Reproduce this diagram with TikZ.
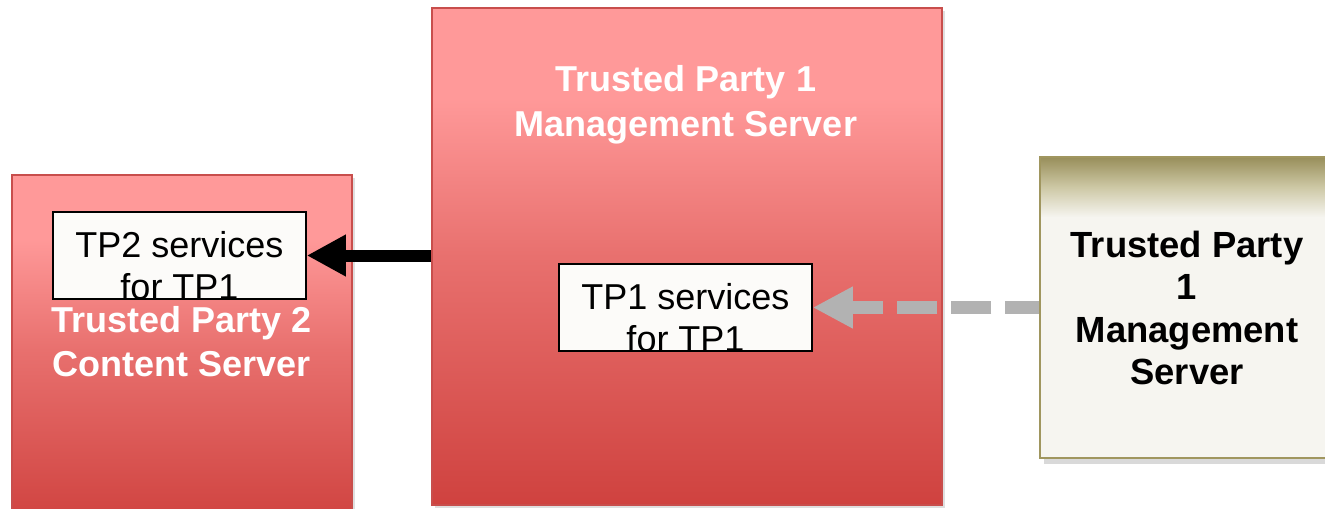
\documentclass[tikz,border=0pt]{standalone}
\usepackage{fontspec}
\setmainfont{Liberation Sans}
\usetikzlibrary{arrows.meta,shadows}

\definecolor{tppink}{RGB}{255,153,153}
\definecolor{tpmidred}{RGB}{232,112,110}
\definecolor{tpred}{RGB}{207,66,63}
\definecolor{tpredline}{RGB}{200,78,76}
\definecolor{tpolive}{RGB}{152,142,90}
\definecolor{tptan}{RGB}{205,200,165}
\definecolor{tpcream}{RGB}{246,245,240}
\definecolor{tpoliveline}{RGB}{160,150,95}
\definecolor{tpgray}{RGB}{178,178,178}
\definecolor{tpwhite}{RGB}{252,251,249}

\pgfdeclareverticalshading{redfade}{100bp}{color(0bp)=(tpred); color(25bp)=(tpred); color(50bp)=(tpmidred); color(66bp)=(tppink); color(75bp)=(tppink); color(100bp)=(tppink)}
\pgfdeclareverticalshading{beigefade}{100bp}{color(0bp)=(tpcream); color(25bp)=(tpcream); color(65bp)=(tpcream); color(70bp)=(tptan); color(75bp)=(tpolive); color(100bp)=(tpolive)}

\tikzset{
  redbox/.style={draw=tpredline, line width=0.6pt, shade, shading=redfade,
    drop shadow={shadow xshift=1.5pt, shadow yshift=-1.5pt, opacity=0.25}},
  beigebox/.style={draw=tpoliveline, line width=0.75pt, shade, shading=beigefade,
    drop shadow={shadow xshift=2pt, shadow yshift=-3pt, opacity=0.3}},
  svcbox/.style={draw=black, line width=0.75pt, fill=tpwhite, inner sep=0pt,
    minimum width=126.5pt, minimum height=43.5pt},
  svctext/.style={align=center, inner sep=0pt, font=\fontsize{18pt}{21pt}\selectfont},
  boxtitle/.style={align=center, inner sep=0pt, text=white, font=\fontsize{18pt}{22pt}\selectfont\bfseries},
  remotetitle/.style={align=center, inner sep=0pt, text=black, font=\fontsize{18.2pt}{21.3pt}\selectfont\bfseries},
  blackarrow/.style={draw=black, line width=6pt, -{Triangle[length=19.5pt,width=19.5pt]}},
  grayarrow/.style={draw=tpgray, line width=6.5pt, dash pattern=on 20pt off 7pt, dash phase=3pt,
    -{Triangle[length=20pt,width=19.5pt]}}
}

\begin{document}
\begin{tikzpicture}[x=0.5pt,y=-0.5pt]
    \useasboundingbox (0,0) rectangle (1325,508);
    \clip (0,0) rectangle (1325,508);
    %% TP2 content server
    \node[redbox, minimum width=170pt, minimum height=175pt] (tp2content) at (182,350) {};
    \node[boxtitle] (tp2title) at (182,342) {Trusted Party 2\\Content Server};
    \node[svcbox] (tp2svc) at (179.5,255.5) {};
    \node[svctext] (tp2svctext) at (179.5,265.5) {TP2 services\\for TP1};

    %% TP1 management server
    \node[redbox, minimum width=255pt, minimum height=248.5pt] (tp1mgmt) at (687,256.5) {};
    \node[boxtitle, font=\fontsize{18pt}{22.5pt}\selectfont\bfseries] (tp1title) at (686,104.5) {Trusted Party 1\\Management Server};
    \node[svcbox] (tp1svc) at (685.5,307.5) {};
    \node[svctext] (tp1svctext) at (685.5,317.5) {TP1 services\\for TP1};

    %% remote TP1 management server
    \node[beigebox, minimum width=152.5pt, minimum height=150.5pt] (tp1remote) at (1192.5,307.5) {};
    \node[remotetitle] (remotetitle) at (1187,308) {Trusted Party\\1\\Management\\Server};

    %% arrows
    \draw[blackarrow] (tp2svc.east -| tp1mgmt.west) -- (tp2svc.east);
    \draw[grayarrow] (tp1remote.west) -- (tp1svc.east);
\end{tikzpicture}
\end{document}
